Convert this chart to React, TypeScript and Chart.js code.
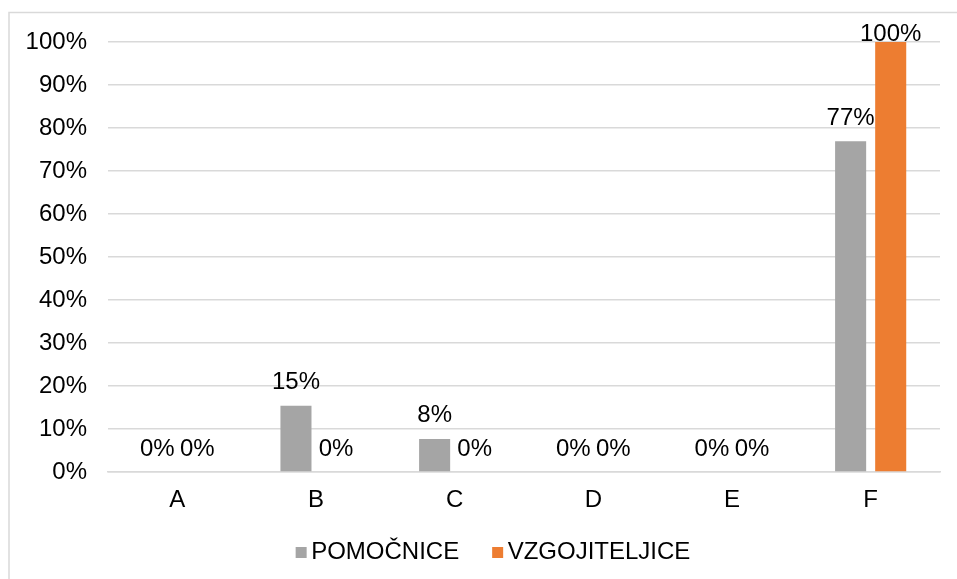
import React, { useEffect, useRef } from "react";
import { Chart, registerables } from "chart.js";

Chart.register(...registerables);

const categories = ["A", "B", "C", "D", "E", "F"];
const pomocnice = [0, 15.4, 7.7, 0, 0, 76.9];
const vzgojiteljice = [0, 0, 0, 0, 0, 100];
const seriesNames = ["POMOČNICE", "VZGOJITELJICE"];
const seriesColors = ["#A5A5A5", "#ED7D31"];

const FONT = "'Liberation Sans', Arial, sans-serif";
const FS = 24;

const framePlugin = {
  id: "frame",
  beforeDraw(chart: any) {
    const ctx = chart.ctx;
    ctx.save();
    ctx.strokeStyle = "#d9d9d9";
    ctx.lineWidth = 1.5;
    ctx.beginPath();
    ctx.moveTo(9, chart.height);
    ctx.lineTo(9, 12.5);
    ctx.lineTo(chart.width, 12.5);
    ctx.stroke();
    ctx.restore();
  },
};

const labelPlugin = {
  id: "valueLabels",
  afterDatasetsDraw(chart: any) {
    const ctx = chart.ctx;
    ctx.save();
    ctx.font = `${FS}px ${FONT}`;
    ctx.fillStyle = "#000";
    ctx.textAlign = "center";
    ctx.textBaseline = "alphabetic";
    chart.data.datasets.forEach((ds: any, i: number) => {
      const meta = chart.getDatasetMeta(i);
      meta.data.forEach((el: any, j: number) => {
        const v = ds.data[j];
        const y = Math.max(el.y - 16.5, chart.chartArea.top - 1);
        ctx.fillText(Math.round(v) + "%", el.x, y);
      });
    });
    ctx.restore();
  },
};

const legendPlugin = {
  id: "customLegend",
  afterDraw(chart: any) {
    const ctx = chart.ctx;
    ctx.save();
    ctx.font = `${FS}px ${FONT}`;
    ctx.textBaseline = "middle";
    ctx.textAlign = "left";
    const box = 11;
    const gap = 4.5;
    const spacing = 33;
    const items = chart.data.datasets.map((ds: any) => ({
      label: ds.label,
      color: ds.backgroundColor,
      w: ctx.measureText(ds.label).width,
    }));
    let total = 0;
    items.forEach((it: any, i: number) => {
      total += box + gap + it.w + (i < items.length - 1 ? spacing : 0);
    });
    const centerX = 493;
    const cy = 552.5;
    let x = centerX - total / 2;
    items.forEach((it: any) => {
      ctx.fillStyle = it.color;
      ctx.fillRect(x, cy - box / 2, box, box);
      x += box + gap;
      ctx.fillStyle = "#000";
      ctx.fillText(it.label, x, cy);
      x += it.w + spacing;
    });
    ctx.restore();
  },
};

export default function App() {
  const ref = useRef<HTMLCanvasElement>(null);
  useEffect(() => {
    if (!ref.current) return;
    const chart = new Chart(ref.current, {
      type: "bar",
      data: {
        labels: categories,
        datasets: [
          {
            label: seriesNames[0],
            data: pomocnice,
            backgroundColor: seriesColors[0],
            categoryPercentage: 0.578,
            barPercentage: 0.775,
          },
          {
            label: seriesNames[1],
            data: vzgojiteljice,
            backgroundColor: seriesColors[1],
            categoryPercentage: 0.578,
            barPercentage: 0.775,
          },
        ],
      },
      options: {
        responsive: false,
        animation: false,
        layout: { padding: { top: 42, left: 10, right: 17, bottom: 0 } },
        plugins: {
          legend: { display: false },
          tooltip: { enabled: false },
        },
        scales: {
          x: {
            grid: { display: false, drawTicks: false },
            border: { display: true, color: "#d9d9d9", width: 1.5 },
            ticks: {
              color: "#000",
              font: { family: FONT, size: FS },
              padding: 14,
              maxRotation: 0,
            },
            afterFit(scale: any) {
              scale.height = 107;
            },
          },
          y: {
            min: 0,
            max: 100,
            grid: { color: "#d9d9d9", lineWidth: 1.5, drawTicks: false },
            border: { display: false },
            ticks: {
              stepSize: 10,
              color: "#000",
              font: { family: FONT, size: FS },
              padding: 21,
              callback: (v: any) => v + "%",
            },
            afterFit(scale: any) {
              scale.width = 98;
            },
          },
        },
      },
      plugins: [framePlugin, labelPlugin, legendPlugin],
    });
    return () => chart.destroy();
  }, []);
  return (
    <canvas
      ref={ref}
      width={957}
      height={579}
      style={{ position: "fixed", left: 0, top: 0, display: "block" }}
    />
  );
}
